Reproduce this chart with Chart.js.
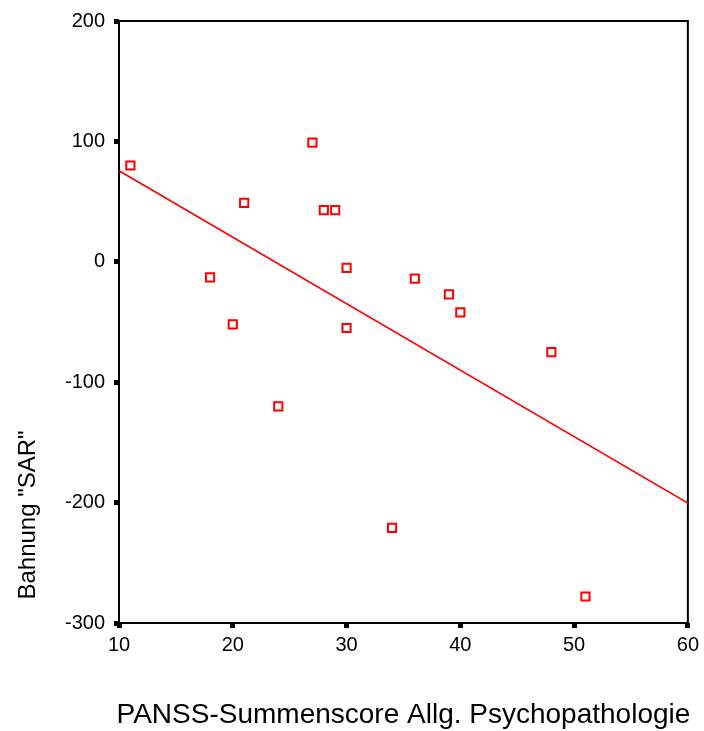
<!DOCTYPE html>
<html>
<head>
<meta charset="utf-8">
<script src="https://cdn.jsdelivr.net/npm/chart.js@4/dist/chart.umd.min.js"></script>
<style>
  html, body { margin: 0; padding: 0; background: #fff; }
  #wrap { width: 704px; height: 731px; }
</style>
</head>
<body>
<div id="wrap"><canvas id="scatter" width="704" height="731"></canvas></div>
<script>
// values
const panss = [11, 18, 20, 21, 24, 27, 28, 29, 30, 30, 34, 36, 39, 40, 48, 51]
const bahnung = [80, -13, -52, 49, -120, 99, 43, 43, -5, -55, -221, -14, -27, -42, -75, -278]

// fitted line, ends read at the plot edges
const fitX = [10, 60]
const fitY = [75.6, -200.4]

const xTicks = [10, 20, 30, 40, 50, 60]
const yTicks = [200, 100, 0, -100, -200, -300]

const xTitle = 'PANSS-Summenscore Allg. Psychopathologie'
const yTitle = 'Bahnung "SAR"'

const FONT = '"Liberation Sans", Arial, sans-serif'
const red = '#ff0000'

// frame round the plot + axis titles placed like the SPSS export
const frame = {
  id: 'frame',
  beforeDatasetsDraw(chart) {
    const { ctx, chartArea: a } = chart
    ctx.save()
    ctx.strokeStyle = '#000'
    ctx.lineWidth = 2
    ctx.strokeRect(a.left, a.top, a.right - a.left, a.bottom - a.top)
    ctx.restore()
  },
  afterDraw(chart) {
    const { ctx, chartArea: a } = chart
    ctx.save()
    ctx.fillStyle = '#000'
    ctx.font = '28px ' + FONT
    ctx.textAlign = 'center'
    ctx.textBaseline = 'alphabetic'
    ctx.fillText(xTitle, (a.left + a.right) / 2, a.bottom + 100)

    ctx.font = '24px ' + FONT
    ctx.translate(35, 515)
    ctx.rotate(-Math.PI / 2)
    ctx.fillText(yTitle, 0, 0)
    ctx.restore()
  }
}

const ctx = document.getElementById('scatter').getContext('2d')

const config = {
  type: 'scatter',
  data: {
    datasets: [
      {
        label: 'Bahnung',
        data: panss.map((x, i) => ({ x: x, y: bahnung[i] })),
        pointStyle: 'rect',
        pointRadius: 5.8,
        pointHoverRadius: 5.8,
        borderColor: red,
        backgroundColor: 'rgba(255,255,255,0)',
        borderWidth: 2
      },
      {
        type: 'line',
        label: 'Fit',
        data: fitX.map((x, i) => ({ x: x, y: fitY[i] })),
        borderColor: red,
        borderWidth: 1.6,
        pointRadius: 0,
        fill: false
      }
    ]
  },
  options: {
    responsive: false,
    animation: false,
    layout: { padding: { top: 19, right: 15, left: 0, bottom: 0 } },
    plugins: {
      legend: { display: false },
      tooltip: { enabled: false }
    },
    scales: {
      x: {
        type: 'linear',
        min: 10,
        max: 60,
        afterBuildTicks: s => { s.ticks = xTicks.map(v => ({ value: v })) },
        afterFit: s => { s.height = 731 - 623 },
        grid: {
          drawOnChartArea: false,
          tickLength: 5,
          tickWidth: 5,
          tickColor: '#000'
        },
        border: { display: false },
        ticks: {
          color: '#000',
          padding: 5,
          font: { family: FONT, size: 20 }
        }
      },
      y: {
        type: 'linear',
        min: -300,
        max: 200,
        afterBuildTicks: s => { s.ticks = yTicks.map(v => ({ value: v })) },
        afterFit: s => { s.width = 119 },
        grid: {
          drawOnChartArea: false,
          tickLength: 5,
          tickWidth: 5,
          tickColor: '#000'
        },
        border: { display: false },
        ticks: {
          color: '#000',
          padding: 9,
          font: { family: FONT, size: 20 }
        }
      }
    }
  },
  plugins: [frame]
}

const chart = new Chart(ctx, config)
</script>
</body>
</html>
